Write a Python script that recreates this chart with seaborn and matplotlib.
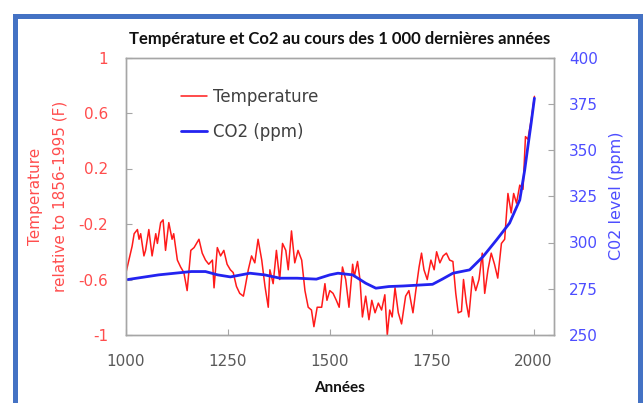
import matplotlib
matplotlib.use("Agg")
import matplotlib.pyplot as plt
import matplotlib.patches as mpatches
from matplotlib.lines import Line2D
import pandas as pd
import seaborn as sns

# Temperature anomaly
temp_years = [
    1000, 1007, 1015, 1020, 1028, 1032, 1036, 1044, 1048, 1056, 1064, 1073, 1077,
    1085, 1091, 1097, 1105, 1113, 1117, 1126, 1134, 1142, 1150, 1159, 1167, 1179,
    1187, 1195, 1203, 1212, 1216, 1224, 1232, 1240, 1248, 1256, 1263, 1271, 1279,
    1288, 1292, 1300, 1308, 1316, 1324, 1333, 1341, 1349, 1353, 1361, 1369, 1377,
    1384, 1392, 1398, 1406, 1414, 1422, 1431, 1439, 1447, 1455, 1461, 1469, 1480,
    1488, 1493, 1500, 1508, 1516, 1523, 1531, 1539, 1547, 1556, 1560, 1568, 1574,
    1580, 1588, 1596, 1603, 1611, 1619, 1627, 1635, 1641, 1647, 1653, 1660, 1668,
    1676, 1686, 1694, 1704, 1711, 1719, 1725, 1731, 1739, 1748, 1756, 1762, 1770,
    1778, 1786, 1794, 1802, 1809, 1815, 1823, 1828, 1835, 1841, 1850, 1858, 1866,
    1874, 1880, 1888, 1896, 1904, 1912, 1921, 1929, 1937, 1945, 1951, 1958, 1966,
    1974, 1980, 1986, 1994, 2002,
]
temp_values = [
    -0.55, -0.46, -0.36, -0.27, -0.24, -0.31, -0.27, -0.43, -0.39, -0.24, -0.43, -0.27, -0.34,
    -0.19, -0.17, -0.39, -0.19, -0.31, -0.27, -0.46, -0.51, -0.55, -0.68, -0.39, -0.37, -0.31,
    -0.41, -0.46, -0.49, -0.46, -0.66, -0.37, -0.43, -0.39, -0.49, -0.53, -0.55, -0.65, -0.70,
    -0.72, -0.66, -0.53, -0.43, -0.48, -0.31, -0.46, -0.65, -0.80, -0.53, -0.63, -0.39, -0.60,
    -0.34, -0.39, -0.53, -0.25, -0.48, -0.39, -0.46, -0.68, -0.80, -0.82, -0.94, -0.80, -0.80,
    -0.63, -0.75, -0.68, -0.70, -0.75, -0.80, -0.51, -0.60, -0.80, -0.49, -0.58, -0.47, -0.60,
    -0.87, -0.72, -0.89, -0.75, -0.84, -0.77, -0.82, -0.71, -1.00, -0.82, -0.87, -0.66, -0.84,
    -0.92, -0.72, -0.68, -0.84, -0.68, -0.51, -0.41, -0.53, -0.60, -0.46, -0.53, -0.40, -0.48,
    -0.43, -0.41, -0.46, -0.47, -0.70, -0.84, -0.83, -0.60, -0.77, -0.87, -0.58, -0.68, -0.60,
    -0.41, -0.70, -0.53, -0.41, -0.49, -0.59, -0.34, -0.31, 0.02, -0.12, 0.02, -0.05, 0.08,
    0.05, 0.43, 0.41, 0.55, 0.72,
]

# CO2 concentration (ppm)
co2_years = [
    1005, 1080, 1160, 1195, 1225, 1256, 1304, 1340, 1378, 1420, 1467, 1500, 1520,
    1556, 1588, 1613, 1645, 1680, 1720, 1752, 1776, 1802, 1843, 1876, 1909, 1941,
    1966, 1978, 1986, 1994, 2002,
]
co2_values = [
    280.0, 282.5, 284.3, 284.3, 282.5, 281.4, 283.4, 282.5, 280.7, 280.7, 280.2, 282.5, 283.4,
    282.5, 278.0, 275.3, 276.2, 276.5, 277.0, 277.4, 280.2, 283.4, 285.2, 292.4, 301.4, 310.5,
    323.0, 339.0, 352.0, 364.6, 378.0,
]

x_ticks = [1000, 1250, 1500, 1750, 2000]
temp_ticks = [-1, -0.6, -0.2, 0.2, 0.6, 1]
temp_tick_labels = ["-1", "-0.6", "-0.2", "0.2", "0.6", "1"]
co2_ticks = [250, 275, 300, 325, 350, 375, 400]

RED = "#FF1A1A"
BLUE = "#2323F0"
RED_TXT = "#FF4D4D"
BLUE_TXT = "#4D4DFF"
GRAY = "#A6A6A6"

sns.set_style("white")
plt.rcParams["font.family"] = ["DejaVu Sans"]

df_temp = pd.DataFrame({"year": temp_years, "temp": temp_values})
df_co2 = pd.DataFrame({"year": co2_years, "co2": co2_values})

fig = plt.figure(figsize=(6.43, 4.03), dpi=100)
ax = fig.add_axes([126 / 643, 1 - 335 / 403, 428 / 643, 277.5 / 403])
ax2 = ax.twinx()

sns.lineplot(data=df_temp, x="year", y="temp", ax=ax, color=RED, linewidth=1.1)
sns.lineplot(data=df_co2, x="year", y="co2", ax=ax2, color=BLUE, linewidth=2.0)

ax.set_xlim(1000, 2050)
ax.set_ylim(-1, 1)
ax2.set_ylim(250, 400)
ax.set_xticks(x_ticks)
ax.set_xticklabels([str(t) for t in x_ticks])
ax.set_yticks(temp_ticks)
ax.set_yticklabels(temp_tick_labels)
ax2.set_yticks(co2_ticks)
ax2.set_yticklabels([str(t) for t in co2_ticks])

for a in (ax, ax2):
    for s in a.spines.values():
        s.set_color(GRAY)
        s.set_linewidth(1.0)
ax.tick_params(axis="x", direction="in", length=4, color=GRAY, labelsize=11,
               labelcolor="#595959", pad=14, bottom=True)
ax.tick_params(axis="y", direction="in", length=4, color=GRAY, labelsize=11,
               labelcolor=RED_TXT, pad=13, left=True)
ax2.tick_params(axis="y", direction="in", length=4, color=GRAY, labelsize=11,
                labelcolor=BLUE_TXT, pad=11, right=True)

ax.set_xlabel("Années", fontsize=11, fontweight="bold", family="Lato",
              color="#111111", labelpad=8)
ax.set_ylabel("Temperature\nrelative to 1856-1995 (F)", fontsize=11,
              color=RED_TXT, labelpad=8, linespacing=1.75)
ax2.set_ylabel("C02 level (ppm)", fontsize=11.5, color=BLUE_TXT, labelpad=8)
ax.set_title("Température et Co2 au cours des 1 000 dernières années",
             fontsize=12.0, fontweight="bold", family="Lato", color="#111111", pad=10)

handles = [Line2D([], [], color=RED, linewidth=1.1),
           Line2D([], [], color=BLUE, linewidth=2.0)]
leg = ax.legend(handles, ["Temperature", "CO2 (ppm)"], loc="upper left",
                bbox_to_anchor=(0.128, 0.89), frameon=False, fontsize=12,
                handlelength=1.6, handletextpad=0.35, labelspacing=1.0,
                borderaxespad=0, borderpad=0)
for t in leg.get_texts():
    t.set_color("#404040")

frame = mpatches.Rectangle((15.5 / 643, -0.2), 624 / 643, 1.2 - 15.5 / 403,
                           transform=fig.transFigure, fill=False,
                           edgecolor="#4472C4", linewidth=3.6, clip_on=False)
fig.patches.append(frame)

fig.savefig("out.png", dpi=100)
